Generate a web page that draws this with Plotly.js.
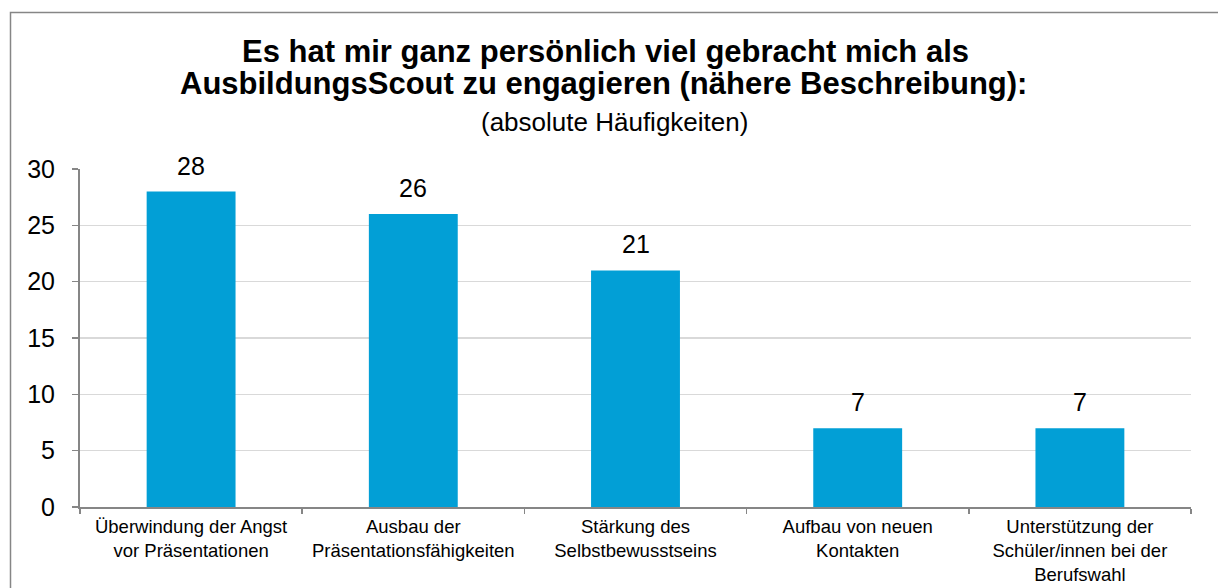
<!DOCTYPE html>
<html><head><meta charset="utf-8">
<script src="https://cdn.plot.ly/plotly-3.0.1.min.js"></script>
<style>html,body{margin:0;padding:0;background:#fff;}#chart{width:1218px;height:588px;}</style>
</head><body><div id="chart"></div>
<script>
const categories = [
  "Überwindung der Angst<br>vor Präsentationen",
  "Ausbau der<br>Präsentationsfähigkeiten",
  "Stärkung des<br>Selbstbewusstseins",
  "Aufbau von neuen<br>Kontakten",
  "Unterstützung der<br>Schüler/innen bei der<br>Berufswahl"
];
const values = [28, 26, 21, 7, 7];
const yTicks = [0, 5, 10, 15, 20, 25, 30];
const titleLine1 = "Es hat mir ganz persönlich viel gebracht mich als";
const titleLine2 = "AusbildungsScout zu engagieren (nähere Beschreibung):";
const subtitle = "(absolute Häufigkeiten)";

const FONT = "Liberation Sans, Arial, Helvetica, sans-serif";
const W = 1218, H = 588, L = 80, R = 27, T = 169, B = 81;
const pw = W - L - R, ph = H - T - B;
const px = x => (x - L) / pw;
const py = y => (H - B - y) / ph;

const trace = {
  type: "bar",
  x: categories,
  y: values,
  cliponaxis: false,
  marker: {color: "#029FD6", line: {width: 0}},
  hoverinfo: "none"
};

const valueLabels = categories.map((c, i) => ({
  text: String(values[i]), x: c, y: values[i], xref: "x", yref: "y",
  xanchor: "center", yanchor: "middle", yshift: 26, showarrow: false,
  font: {family: FONT, size: 25, color: "#000"}
}));

const layout = {
  width: W, height: H,
  margin: {l: L, r: R, t: T, b: B, pad: 0},
  paper_bgcolor: "#fff", plot_bgcolor: "#fff",
  showlegend: false,
  bargap: 0.6,
  font: {family: FONT, color: "#000"},
  xaxis: {
    type: "category",
    tickson: "boundaries",
    ticks: "outside", ticklen: 5, tickcolor: "#868686", tickwidth: 1.5,
    showline: true, linecolor: "#868686", linewidth: 2,
    showgrid: false,
    tickfont: {family: FONT, size: 18.5, color: "#000"},
    ticklabelstandoff: 2,
    automargin: false
  },
  yaxis: {
    range: [0, 30],
    tickvals: yTicks,
    ticktext: yTicks.map(String),
    ticks: "outside", ticklen: 6, tickcolor: "#868686", tickwidth: 1.5,
    showline: true, linecolor: "#868686", linewidth: 2,
    showgrid: true, gridcolor: "#D9D9D9", gridwidth: 1.5,
    zeroline: false,
    tickfont: {family: FONT, size: 25, color: "#000"},
    ticklabelstandoff: 12,
    automargin: false
  },
  shapes: [{
    type: "rect", xref: "paper", yref: "paper",
    x0: px(10.5), x1: px(1230), y0: py(600), y1: py(12.5),
    line: {color: "#868686", width: 1.5}, fillcolor: "rgba(0,0,0,0)", layer: "below"
  }],
  annotations: [
    {text: "<b>" + titleLine1 + "</b>", xref: "paper", yref: "paper", x: px(605), y: py(51), xanchor: "center", yanchor: "middle", showarrow: false, font: {family: FONT, size: 31, color: "#000"}},
    {text: "<b>" + titleLine2 + "</b>", xref: "paper", yref: "paper", x: px(603), y: py(84), xanchor: "center", yanchor: "middle", showarrow: false, font: {family: FONT, size: 31, color: "#000"}},
    {text: subtitle, xref: "paper", yref: "paper", x: px(614), y: py(122), xanchor: "center", yanchor: "middle", showarrow: false, font: {family: FONT, size: 26, color: "#000"}}
  ].concat(valueLabels)
};

Plotly.newPlot("chart", [trace], layout, {displayModeBar: false, staticPlot: true});
</script></body></html>
